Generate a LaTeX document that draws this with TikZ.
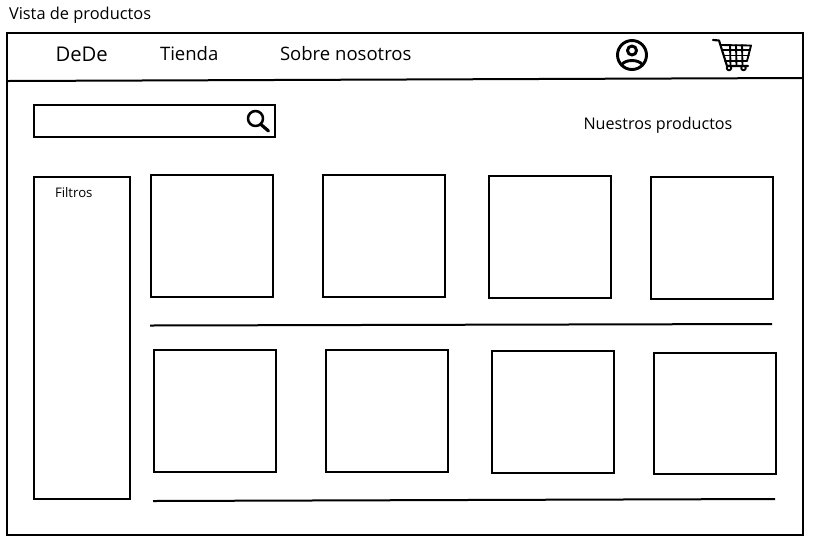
\documentclass[tikz,border=0pt]{standalone}
\usepackage{fontspec}
\setmainfont{Open Sans}
\begin{document}
\begin{tikzpicture}[x=0.75pt,y=-0.75pt,
  box/.style={draw=black,line width=1.5pt,fill=white,inner sep=0pt,outer sep=0pt,minimum width=91.4pt,minimum height=91.4pt},
  ln/.style={draw=black,line width=1.5pt},
  lbl/.style={inner sep=0pt,outer sep=0pt,anchor=base west,text=black},
  icon/.style={draw=black,line width=1.2pt,line cap=round,line join=round}]
\useasboundingbox (0,0) rectangle (817,551);
\fill[white] (0,0) rectangle (817,551);
\coordinate (fTL) at (7,33); \coordinate (fBR) at (803,535);
\draw[ln] (fTL) rectangle (fBR);
\coordinate (navL) at (8,81); \coordinate (navR) at (802,78);
\draw[ln] (navL) -- (navR);
\node[lbl,font=\fontsize{12.3pt}{14pt}\selectfont] (title) at (9,19) {Vista de productos};
\node[lbl,font=\fontsize{15.2pt}{18pt}\selectfont] (logo) at (55.5,61) {DeDe};
\node[lbl,font=\fontsize{13.9pt}{18pt}\selectfont] (tienda) at (160,60) {Tienda};
\node[lbl,font=\fontsize{13.9pt}{18pt}\selectfont] (sobre) at (280,60) {Sobre nosotros};
\node[lbl,font=\fontsize{12.1pt}{16pt}\selectfont] (nuestros) at (583.5,129) {Nuestros productos};
% search
\node[box,minimum width=180.3pt,minimum height=24pt,anchor=north west] (search) at (34.4,105) {};
\draw[icon,line width=1.9pt] (255.5,118.5) circle (7.5);
\draw[icon,line width=2.4pt] (261,124.5) -- (268.5,131);
% user icon
\draw[icon,line width=2.2pt] (632,55) circle (14.5);
\draw[icon,line width=2.2pt] (632,50.5) circle (4.5);
\draw[icon,line width=2.2pt] (621.5,65) .. controls (625,59) and (639,59) .. (642.5,65);
% cart
\begin{scope}[icon,line width=1.4pt]
\draw[line width=1.6pt] (713,40) -- (719,40.5) -- (727,66) -- (748,66);
\draw (721,45) -- (751,45.5) -- (747,61) -- (725,61);
\foreach \x in {730,736,742} \draw (\x,45) -- (\x+0.5,66);
\draw (723,50) -- (750,50); \draw (724.5,55.5) -- (749,55.5);
\draw (729,68) circle (2.3); \draw (743.5,68) circle (2.3);
\end{scope}
% filter
\node[box,minimum width=72pt,minimum height=241.5pt,anchor=north west] (filtros) at (34.4,177) {};
\node[lbl,font=\fontsize{9.9pt}{12pt}\selectfont] (ftext) at (55,197.5) {Filtros};
% products
\foreach \n/\x/\y in {a/151.4/174.7,b/323.4/175.2,c/489.4/175.7,d/651.4/176.9,e/154.4/349.9,f/326.4/350.4,g/492.4/350.9,h/654.4/352.6}
  \node[box,anchor=north west] (\n) at (\x,\y) {};
\coordinate (s1) at (150,325.5); \coordinate (s2) at (772,324);
\coordinate (s3) at (153,501); \coordinate (s4) at (775,499);
\draw[ln] (s1) -- (s2);
\draw[ln] (s3) -- (s4);
\end{tikzpicture}
\end{document}
